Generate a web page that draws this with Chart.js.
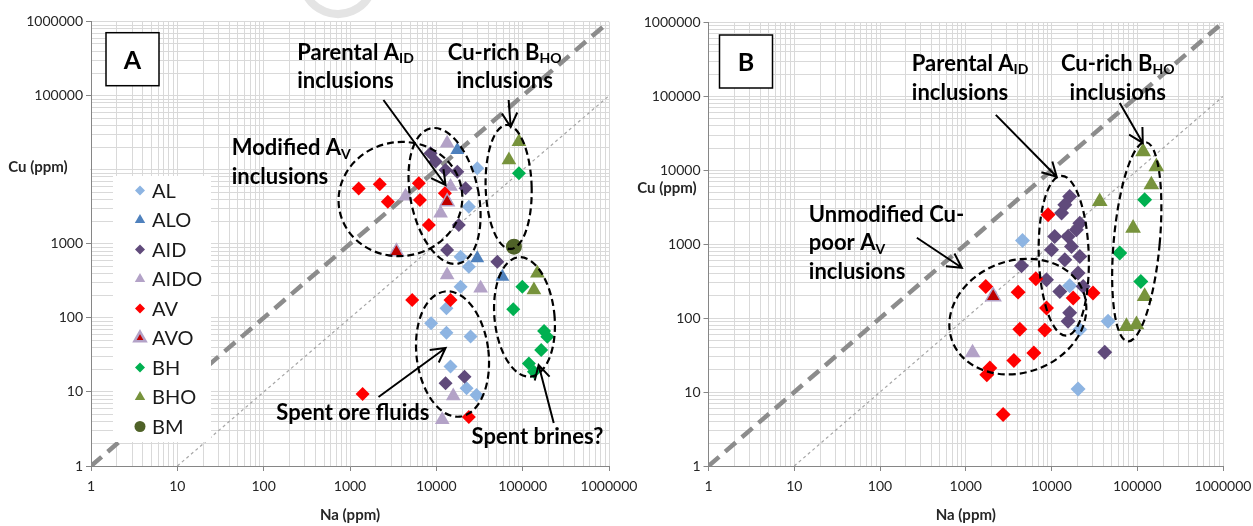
<!DOCTYPE html>
<html>
<head>
<meta charset="utf-8">
<script src="https://cdn.jsdelivr.net/npm/chart.js@4.4.0/dist/chart.umd.min.js"></script>
<style>
    body { margin: 0; background: #fff; width: 1253px; height: 526px; overflow: hidden; position: relative; }
    .panel { position: absolute; top: 0; height: 526px; }
    #panelA { left: 0; width: 645px; }
    #panelB { left: 625px; width: 628px; }
</style>
</head>
<body>
<div class="panel" id="panelA"><canvas id="chartA"></canvas></div>
<div class="panel" id="panelB"><canvas id="chartB"></canvas></div>
<script>
// Axis ticks (both panels)
const decadeValues = [1, 10, 100, 1000, 10000, 100000, 1000000];
const decadeLabels = ['1', '10', '100', '1000', '10000', '100000', '1000000'];

// Series names, in plotting order
const seriesNames = ['AL', 'ALO', 'AID', 'AIDO', 'AV', 'AVO', 'BH', 'BHO', 'BM'];

// ---- Panel A data (Na ppm, Cu ppm) ----
const aAlNa   = [29800, 23800, 19100, 23800, 19100, 13100, 8700, 13100, 24900, 14600, 22400, 29200];
const aAlCu   = [10500, 3180, 670, 490, 264, 135, 85, 63, 56, 22, 11.2, 9.1];
const aAloNa  = [17500, 29800, 58200];
const aAloCu  = [18500, 640, 360];
const aAidNa  = [8570, 9790, 12790, 17500, 21800, 18200, 13340, 50900, 12790, 21200];
const aAidCu  = [16700, 12900, 9940, 9430, 5620, 1800, 826, 574, 13.1, 16.1];
const aAidoNa = [13340, 14600, 11200, 4400, 13340, 32600, 15700, 11700];
const aAidoCu = [22800, 5930, 2590, 4400, 380, 251, 8.8, 4.2];
const aAvNa   = [1260, 2210, 2740, 6270, 6460, 8190, 12550, 5250, 14600, 23800, 1400];
const aAvCu   = [5600, 6370, 3710, 6570, 3910, 1800, 4820, 175, 175, 4.6, 9.4];
const aAvoNa  = [13340, 3450];
const aAvoCu  = [3710, 783];
const aBhNa   = [90600, 99100, 77800, 177000, 193000, 164000, 118000, 135000];
const aBhCu   = [8960, 264, 131, 66.5, 55.7, 36.8, 24.3, 18.7];
const aBhoNa  = [90600, 69300, 148000, 135000];
const aBhoCu  = [24000, 13560, 400, 238];
const aBmNa   = [79200];
const aBmCu   = [916];

// ---- Panel B data (Na ppm, Cu ppm) ----
const bAlNa   = [4590, 16300, 21400, 45700, 20400];
const bAlCu   = [1125, 275, 70, 91, 11];
const bAidNa  = [16300, 14300, 13100, 21400, 19500, 10900, 15600, 10000, 17100, 21400, 14300, 20400, 8750, 12500, 23400, 16300, 15600, 4470, 41800];
const bAidCu  = [4430, 3420, 2640, 1930, 1570, 1270, 1270, 843, 934, 684, 618, 408, 331, 230, 269, 118, 91, 512, 34.5];
const bAidoNa = [1200];
const bAidoCu = [34];
const bAvNa   = [9120, 6560, 17900, 30500, 8750, 8350, 4270, 1710, 4080, 6220, 3640, 1910, 1760, 2730];
const bAvCu   = [2500, 342, 188, 219, 137, 68.9, 71, 269, 225, 33.9, 26.7, 21.2, 17.2, 4.97];
const bAvoNa  = [2090];
const bAvoCu  = [197];
const bBhNa   = [122000, 62500, 110000];
const bBhCu   = [3990, 760, 314];
const bBhoNa  = [117000, 167000, 146000, 36500, 89400, 122000, 74800, 97900];
const bBhoCu  = [17900, 11200, 6370, 3790, 1650, 197, 77.5, 81.7];

// Reference lines Cu = Na and Cu = Na/10
const lineOneNa = [1, 1000000];
const lineOneCu = [1, 1000000];
const lineTenNa = [10, 1000000];
const lineTenCu = [1, 100000];

const styles = {
    AL:   { shape: 'rectRot',  fill: '#8DB4E2', r: 7,   lr: 5 },
    ALO:  { shape: 'triangle', fill: '#4F81BD', r: 8,   lr: 6 },
    AID:  { shape: 'rectRot',  fill: '#604A7B', r: 7,   lr: 5 },
    AIDO: { shape: 'triangle', fill: '#B3A2C7', r: 8.5, lr: 6 },
    AV:   { shape: 'rectRot',  fill: '#FF0000', r: 7,   lr: 5 },
    AVO:  { shape: 'triangle', fill: '#C00000', r: 8,   lr: 6.5, border: '#B3A2C7', bw: 1.5, lbw: 2.5 },
    BH:   { shape: 'rectRot',  fill: '#00B050', r: 7,   lr: 5 },
    BHO:  { shape: 'triangle', fill: '#77933C', r: 8.5, lr: 6 },
    BM:   { shape: 'circle',   fill: '#4F6228', r: 8,   lr: 5.5 }
};

const seriesA = {
    AL: [aAlNa, aAlCu], ALO: [aAloNa, aAloCu], AID: [aAidNa, aAidCu], AIDO: [aAidoNa, aAidoCu],
    AV: [aAvNa, aAvCu], AVO: [aAvoNa, aAvoCu], BH: [aBhNa, aBhCu], BHO: [aBhoNa, aBhoCu], BM: [aBmNa, aBmCu]
};
const seriesB = {
    AL: [bAlNa, bAlCu], AID: [bAidNa, bAidCu], AIDO: [bAidoNa, bAidoCu],
    AV: [bAvNa, bAvCu], AVO: [bAvoNa, bAvoCu], BH: [bBhNa, bBhCu], BHO: [bBhoNa, bBhoCu]
};

// Annotations, anchored in data coordinates
const notesA = {
    box: 'A',
    yTitle: [38, 167],
    titleCover: true,
    legend: true,
    watermark: true,
    ellipses: [
        { na: 3840, cu: 4030, rx: 62, ry: 57, rot: -0.15 },
        { na: 12450, cu: 4430, rx: 34, ry: 69, rot: -0.2 },
        { na: 68800, cu: 5860, rx: 23, ry: 62, rot: -0.03 },
        { na: 15400, cu: 32.5, rx: 36, ry: 63, rot: -0.12 },
        { na: 105000, cu: 103, rx: 30, ry: 60, rot: -0.1 }
    ],
    arrows: [
        { from: [2440, 87700], to: [12790, 6240] },
        { from: [68800, 87700], to: [72600, 37800] },
        { from: [2140, 8.55], to: [12790, 39.2] },
        { from: [229000, 3.81], to: [153000, 23.1] }
    ],
    labels: [
        { na: 245, cu: 381000, align: 'left', lines: ['Parental A_{ID}', 'inclusions'] },
        { na: 61800, cu: 381000, align: 'center', lines: ['Cu-rich B_{HO}', 'inclusions'] },
        { na: 42.7, cu: 19500, align: 'left', lines: ['Modified A_{V}', 'inclusions'] },
        { na: 140, cu: 5.15, align: 'left', lines: ['Spent ore fluids'] },
        { na: 25600, cu: 2.49, align: 'left', lines: ['Spent brines?'] }
    ]
};

const notesB = {
    box: 'B',
    yTitle: [667, 188],
    titleCover: false,
    legend: false,
    watermark: false,
    ellipses: [
        { na: 4050, cu: 105, rx: 70, ry: 56, rot: -0.35 },
        { na: 13900, cu: 699, rx: 25, ry: 80, rot: -0.03 },
        { na: 98700, cu: 1081, rx: 23, ry: 100, rot: 0.09 }
    ],
    arrows: [
        { from: [2240, 56200], to: [11500, 8170] },
        { from: [62500, 81700], to: [116000, 23500] },
        { from: [269, 1224], to: [901, 481] }
    ],
    labels: [
        { na: 235, cu: 275000, align: 'left', lines: ['Parental A_{ID}', 'inclusions'] },
        { na: 59300, cu: 275000, align: 'center', lines: ['Cu-rich B_{HO}', 'inclusions'] },
        { na: 14.8, cu: 2505, align: 'left', lines: ['Unmodified Cu-', 'poor A_{V}', 'inclusions'] }
    ]
};

const FONT = 'Lato, "Open Sans", sans-serif';

function pts(na, cu) {
    return na.map((v, i) => ({ x: v, y: cu[i] }));
}

function buildDatasets(series, scaleR) {
    const sets = [];
    seriesNames.forEach((name, idx) => {
        if (!series[name]) return;
        const st = styles[name];
        sets.push({
            label: name,
            data: pts(series[name][0], series[name][1]),
            pointStyle: st.shape,
            pointRadius: st.r * scaleR,
            pointHoverRadius: st.r * scaleR,
            backgroundColor: st.fill,
            borderColor: st.border || st.fill,
            borderWidth: st.bw || 0,
            showLine: false,
            order: 20 - idx
        });
    });
    sets.push({
        label: 'one', data: pts(lineOneNa, lineOneCu), showLine: true, pointRadius: 0,
        borderColor: '#8c8c8c', borderWidth: 4.5, borderDash: [14, 8], order: 60
    });
    sets.push({
        label: 'ten', data: pts(lineTenNa, lineTenCu), showLine: true, pointRadius: 0,
        borderColor: '#a6a6a6', borderWidth: 1.2, borderDash: [3, 3], order: 61
    });
    return sets;
}

function drawRich(ctx, text, x, y, align) {
    const parts = text.split(/_\{(.*?)\}/);
    const mainFont = 'bold 22px ' + FONT;
    const subFont = 'bold 14px ' + FONT;
    let total = 0;
    parts.forEach((p, i) => {
        ctx.font = i % 2 ? subFont : mainFont;
        total += ctx.measureText(p).width;
    });
    let cx = align === 'center' ? x - total / 2 : x;
    ctx.textAlign = 'left';
    ctx.textBaseline = 'middle';
    parts.forEach((p, i) => {
        ctx.font = i % 2 ? subFont : mainFont;
        ctx.fillText(p, cx, i % 2 ? y + 6 : y);
        cx += ctx.measureText(p).width;
    });
}

function drawArrow(ctx, x1, y1, x2, y2) {
    const ang = Math.atan2(y2 - y1, x2 - x1);
    const head = 16;
    ctx.beginPath();
    ctx.moveTo(x1, y1);
    ctx.lineTo(x2, y2);
    ctx.moveTo(x2 - head * Math.cos(ang - 0.5), y2 - head * Math.sin(ang - 0.5));
    ctx.lineTo(x2, y2);
    ctx.lineTo(x2 - head * Math.cos(ang + 0.5), y2 - head * Math.sin(ang + 0.5));
    ctx.stroke();
}

function notesPlugin(notes) {
    return {
        id: 'notes' + notes.box,
        beforeDraw(chart) {
            if (!notes.watermark) return;
            const ctx = chart.ctx;
            ctx.save();
            ctx.strokeStyle = '#e4e4e4';
            ctx.lineWidth = 8;
            ctx.beginPath();
            ctx.arc(338, -22, 36, 0.12 * Math.PI, 0.88 * Math.PI);
            ctx.stroke();
            ctx.restore();
        },
        afterDatasetsDraw(chart) {
            const ctx = chart.ctx;
            const xs = chart.scales.x, ys = chart.scales.y;
            const area = chart.chartArea;
            ctx.save();

            // dashed ellipses
            ctx.strokeStyle = '#000';
            ctx.lineWidth = 2.2;
            ctx.setLineDash([7, 4]);
            notes.ellipses.forEach(e => {
                ctx.beginPath();
                ctx.ellipse(xs.getPixelForValue(e.na), ys.getPixelForValue(e.cu), e.rx, e.ry, e.rot, 0, Math.PI * 2);
                ctx.stroke();
            });

            // arrows
            ctx.setLineDash([]);
            ctx.lineWidth = 2;
            notes.arrows.forEach(a => {
                drawArrow(ctx,
                    xs.getPixelForValue(a.from[0]), ys.getPixelForValue(a.from[1]),
                    xs.getPixelForValue(a.to[0]), ys.getPixelForValue(a.to[1]));
            });

            // labels
            ctx.fillStyle = '#000';
            notes.labels.forEach(l => {
                const x = xs.getPixelForValue(l.na);
                const y = ys.getPixelForValue(l.cu);
                l.lines.forEach((line, i) => drawRich(ctx, line, x, y + i * 28.5, l.align));
            });

            // panel letter box
            const bx = area.left + (notes.box === 'A' ? 15 : 11);
            const by = area.top + (notes.box === 'A' ? 11 : 12.5);
            ctx.fillStyle = '#fff';
            ctx.fillRect(bx, by, 53, 53);
            ctx.strokeStyle = '#000';
            ctx.lineWidth = 1.5;
            ctx.strokeRect(bx, by, 53, 53);
            ctx.fillStyle = '#000';
            ctx.font = 'bold 25px ' + FONT;
            ctx.textAlign = 'center';
            ctx.textBaseline = 'middle';
            ctx.fillText(notes.box, bx + 26.5, by + 28);

            // legend
            if (notes.legend) {
                const lx = area.left + 22, ly = 176;
                ctx.fillStyle = '#fff';
                ctx.fillRect(lx, ly, 98, 266);
                seriesNames.forEach((name, i) => {
                    const st = styles[name];
                    const y = 190.5 + i * 29.5;
                    ctx.fillStyle = st.fill;
                    ctx.strokeStyle = st.border || st.fill;
                    ctx.lineWidth = st.lbw || 0;
                    Chart.helpers.drawPoint(ctx, {
                        pointStyle: st.shape, radius: st.lr, rotation: 0, borderWidth: st.lbw || 0
                    }, area.left + 49, y);
                    ctx.fillStyle = '#1a1a1a';
                    ctx.font = '20px ' + FONT;
                    ctx.textAlign = 'left';
                    ctx.textBaseline = 'middle';
                    ctx.fillText(name, area.left + 61, y + 1);
                });
            }

            // horizontal y axis title
            const canvasLeft = chart.canvas.getBoundingClientRect().left;
            const tx = notes.yTitle[0] - canvasLeft, ty = notes.yTitle[1];
            ctx.font = 'bold 15px ' + FONT;
            const tw = ctx.measureText('Cu (ppm)').width;
            if (notes.titleCover) {
                ctx.fillStyle = '#fff';
                ctx.fillRect(tx - tw / 2 - 3, ty - 10, tw + 6 + 20, 20);
            }
            ctx.fillStyle = '#262626';
            ctx.textAlign = 'center';
            ctx.textBaseline = 'middle';
            ctx.fillText('Cu (ppm)', tx, ty);

            ctx.restore();
        }
    };
}

function logAxis(isX, size) {
    return {
        type: 'logarithmic',
        min: 1,
        max: 1000000,
        afterBuildTicks(scale) {
            const t = [];
            decadeValues.forEach((d, i) => {
                if (i === decadeValues.length - 1) { t.push({ value: d }); return; }
                for (let k = 1; k < 10; k++) t.push({ value: d * k });
            });
            scale.ticks = t;
        },
        afterFit(scale) {
            if (isX) scale.height = size; else scale.width = size;
            scale.paddingLeft = 0; scale.paddingRight = 0;
            scale.paddingTop = 0; scale.paddingBottom = 0;
        },
        ticks: {
            autoSkip: false,
            maxRotation: 0,
            minRotation: 0,
            padding: isX ? 7 : 3,
            color: '#262626',
            font: { family: FONT, size: 14 },
            callback: (value) => {
                const i = decadeValues.indexOf(value);
                return i >= 0 ? decadeLabels[i] : '';
            }
        },
        grid: {
            color: '#d9d9d9',
            lineWidth: 1,
            tickLength: 5,
            tickColor: (ctx) => (ctx.tick && decadeValues.indexOf(ctx.tick.value) >= 0) ? '#868686' : 'rgba(0,0,0,0)'
        },
        border: { color: '#868686', width: 1 },
        title: isX ? {
            display: true,
            text: 'Na (ppm)',
            color: '#262626',
            font: { family: FONT, size: 15, weight: 'bold' },
            padding: { top: 0, bottom: 2 }
        } : { display: false }
    };
}

function makeChart(id, series, notes, padding, yWidth, scaleR) {
    return new Chart(document.getElementById(id), {
        type: 'scatter',
        data: { datasets: buildDatasets(series, scaleR) },
        options: {
            responsive: true,
            maintainAspectRatio: false,
            animation: false,
            layout: { padding: padding },
            plugins: { legend: { display: false }, tooltip: { enabled: false } },
            scales: {
                x: logAxis(true, 60),
                y: logAxis(false, yWidth)
            }
        },
        plugins: [notesPlugin(notes)]
    });
}

makeChart('chartA', seriesA, notesA, { left: 0, right: 36, top: 21.7, bottom: 0 }, 91, 1);
makeChart('chartB', seriesB, notesB, { left: 0, right: 30, top: 22.5, bottom: 0 }, 83.5, 1.07);
</script>
</body>
</html>
